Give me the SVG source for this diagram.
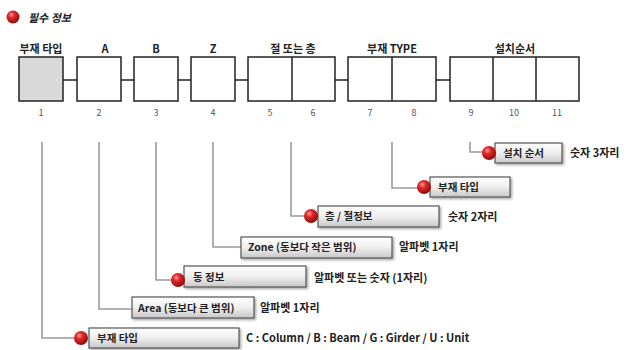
<svg xmlns="http://www.w3.org/2000/svg" width="627" height="350" viewBox="0 0 627 350">
<defs>
<linearGradient id="boxg" x1="0" y1="0" x2="0" y2="1">
<stop offset="0" stop-color="#ffffff"/>
<stop offset="0.5" stop-color="#eeeeee"/>
<stop offset="1" stop-color="#c8c8c8"/>
</linearGradient>
<radialGradient id="ball" cx="0.38" cy="0.33" r="0.7">
<stop offset="0" stop-color="#ff9a9a"/>
<stop offset="0.35" stop-color="#e02828"/>
<stop offset="1" stop-color="#8a0a0a"/>
</radialGradient>
<filter id="sh" x="-10%" y="-20%" width="130%" height="160%">
<feDropShadow dx="1.5" dy="1.5" stdDeviation="1" flood-color="#000" flood-opacity="0.35"/>
</filter>
</defs>
<style>
text{font-family:"Noto Sans CJK KR","Liberation Sans",sans-serif;font-weight:bold;fill:#222;}
.hd{font-size:11px;text-anchor:middle;}
.num{font-size:9px;fill:#555;font-weight:normal;text-anchor:middle;}
.cell{fill:#fff;stroke:#222;stroke-width:1.5;}
.lnk{stroke:#222;stroke-width:1.5;fill:none;}
.tr{stroke:#9a9a9a;stroke-width:1.6;fill:none;}
.lb{fill:url(#boxg);stroke:#555;stroke-width:1.2;filter:url(#sh);}
.lt{font-size:10.5px;}
.ds{font-size:11px;}
</style>
<rect width="627" height="350" fill="#fff"/>

<g id="legend">
<circle cx="13" cy="17" r="6.5" fill="url(#ball)"/>
<text x="28" y="22" font-size="11" font-style="italic">필수 정보</text>
</g>

<g id="connectors">
<path class="lnk" d="M63 80H77M121 80H134M178 80H191M235 80H248M335 80H348M436 80H450"/>
<path class="tr" d="M42 142V338H80"/>
<path class="tr" d="M99 142V309H132"/>
<path class="tr" d="M156 142V280H178"/>
<path class="tr" d="M213 142V247H241"/>
<path class="tr" d="M291 142V216H310"/>
<path class="tr" d="M392 142V188H423"/>
<path class="tr" d="M470 142V152H488"/>
</g>

<g id="cells">
<rect class="cell" x="19" y="57" width="44" height="44" style="fill:#d9d9d9"/>
<rect class="cell" x="77" y="57" width="44" height="44"/>
<rect class="cell" x="134" y="57" width="44" height="44"/>
<rect class="cell" x="191" y="57" width="44" height="44"/>
<rect class="cell" x="248" y="57" width="87" height="44"/>
<line class="lnk" x1="292" y1="57" x2="292" y2="101"/>
<rect class="cell" x="348" y="57" width="88" height="44"/>
<line class="lnk" x1="392" y1="57" x2="392" y2="101"/>
<rect class="cell" x="450" y="57" width="129" height="44"/>
<line class="lnk" x1="493" y1="57" x2="493" y2="101"/>
<line class="lnk" x1="536" y1="57" x2="536" y2="101"/>
</g>

<g id="headers">
<text class="hd" x="41" y="53">부재 타입</text>
<text class="hd" x="105" y="53">A</text>
<text class="hd" x="156" y="53">B</text>
<text class="hd" x="213" y="53">Z</text>
<text class="hd" x="293" y="53">절 또는 층</text>
<text class="hd" x="392" y="53">부재 TYPE</text>
<text class="hd" x="515" y="53">설치순서</text>
</g>

<g id="numbers">
<text class="num" x="41" y="116">1</text>
<text class="num" x="99" y="116">2</text>
<text class="num" x="156" y="116">3</text>
<text class="num" x="213" y="116">4</text>
<text class="num" x="270" y="116">5</text>
<text class="num" x="313" y="116">6</text>
<text class="num" x="370" y="116">7</text>
<text class="num" x="414" y="116">8</text>
<text class="num" x="471" y="116">9</text>
<text class="num" x="514" y="116">10</text>
<text class="num" x="557" y="116">11</text>
</g>

<g id="n-install">
<rect class="lb" x="495" y="143" width="67" height="20"/>
<circle cx="489" cy="153" r="7" fill="url(#ball)"/>
<text class="lt" x="503" y="157">설치 순서</text>
<text class="ds" x="570" y="157">숫자 3자리</text>
</g>

<g id="n-type">
<rect class="lb" x="430" y="177" width="80" height="20"/>
<circle cx="424" cy="187" r="7" fill="url(#ball)"/>
<text class="lt" x="438" y="191">부재 타입</text>
</g>

<g id="n-floor">
<rect class="lb" x="318" y="206" width="121" height="21"/>
<circle cx="311" cy="216" r="7" fill="url(#ball)"/>
<text class="lt" x="325" y="220">층 / 절정보</text>
<text class="ds" x="448" y="221">숫자 2자리</text>
</g>

<g id="n-zone">
<rect class="lb" x="241" y="237" width="151" height="21"/>
<text class="lt" x="248" y="251">Zone (동보다 작은 범위)</text>
<text class="ds" x="399" y="251">알파벳 1자리</text>
</g>

<g id="n-dong">
<rect class="lb" x="184" y="266" width="122" height="21"/>
<circle cx="178" cy="280" r="7" fill="url(#ball)"/>
<text class="lt" x="193" y="281">동 정보</text>
<text class="ds" x="314" y="282">알파벳 또는 숫자 (1자리)</text>
</g>

<g id="n-area">
<rect class="lb" x="132" y="297" width="122" height="21"/>
<text class="lt" x="138" y="312">Area (동보다 큰 범위)</text>
<text class="ds" x="260" y="312">알파벳 1자리</text>
</g>

<g id="n-member">
<rect class="lb" x="89" y="328" width="150" height="20"/>
<circle cx="81" cy="338" r="7" fill="url(#ball)"/>
<text class="lt" x="97" y="342">부재 타입</text>
<text class="ds" x="246" y="342">C : Column / B : Beam / G : Girder / U : Unit</text>
</g>
</svg>
